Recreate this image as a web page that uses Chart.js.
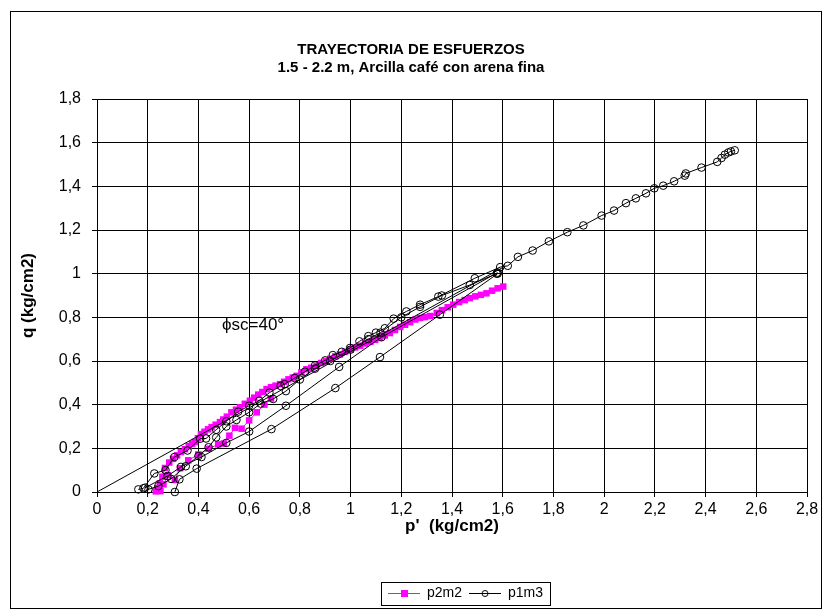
<!DOCTYPE html>
<html>
<head>
<meta charset="utf-8">
<title>Trayectoria de esfuerzos</title>
<script src="https://cdn.jsdelivr.net/npm/chart.js@4.4.1/dist/chart.umd.min.js"></script>
<style>
  html, body { margin: 0; padding: 0; background: #fff; }
  #wrap { position: relative; width: 827px; height: 610px; }
</style>
</head>
<body>
<div id="wrap"><canvas id="grafico"></canvas></div>
<script>
// Trayectorias de esfuerzos (p', q) en kg/cm2

// p2m2: trayectoria principal
const p2m2Principal = [
  [0.232,0.003],[0.240,0.018],[0.248,0.040],[0.258,0.070],[0.268,0.110],[0.285,0.135],
  [0.300,0.152],[0.316,0.168],[0.331,0.183],[0.347,0.196],[0.362,0.210],[0.375,0.220],
  [0.386,0.229],[0.398,0.246],[0.410,0.265],[0.424,0.276],[0.438,0.287],[0.452,0.297],
  [0.468,0.308],[0.485,0.320],[0.498,0.332],[0.512,0.345],[0.530,0.365],[0.548,0.377],
  [0.564,0.388],[0.583,0.404],[0.603,0.418],[0.620,0.432],[0.636,0.446],[0.652,0.458],
  [0.669,0.471],[0.686,0.480],[0.704,0.487],[0.722,0.494],[0.738,0.505],[0.755,0.516],
  [0.772,0.524],[0.787,0.532],[0.806,0.548],[0.826,0.562],[0.845,0.569],[0.866,0.578],
  [0.884,0.591],[0.903,0.600],[0.920,0.610],[0.940,0.621],[0.958,0.630],[0.978,0.642],
  [1.000,0.653],[1.018,0.662],[1.038,0.670],[1.058,0.680],[1.078,0.688],[1.097,0.697],
  [1.116,0.706],[1.135,0.717],[1.155,0.728],[1.175,0.742],[1.196,0.756],[1.215,0.766],
  [1.235,0.778],[1.255,0.790],[1.274,0.797],[1.293,0.801],[1.314,0.806],[1.340,0.820],
  [1.360,0.833],[1.383,0.846],[1.405,0.858],[1.428,0.870],[1.450,0.879],[1.470,0.888],
  [1.492,0.896],[1.514,0.903],[1.536,0.910],[1.558,0.922],[1.580,0.933],[1.602,0.941]
];

// p2m2: trayectoria secundaria
const p2m2Secundaria = [
  [0.250,0.004],[0.262,0.035],[0.280,0.077],[0.307,0.055],[0.327,0.109],[0.360,0.145],
  [0.400,0.172],[0.440,0.198],[0.478,0.218],[0.500,0.222],[0.522,0.258],[0.544,0.294],
  [0.570,0.290],[0.600,0.328],[0.630,0.365],[0.660,0.400],[0.686,0.428]
];

// p1m3: etapas
const p1m3Etapa1 = [
  [0.163,0.012],[0.183,0.017],[0.226,0.085],[0.270,0.100],[0.305,0.160],[0.357,0.190],
  [0.407,0.244],[0.430,0.245],[0.470,0.285],[0.510,0.324],[0.557,0.368],[0.600,0.395],
  [0.640,0.418],[0.680,0.455],[0.724,0.486],[0.740,0.494],[0.780,0.522],[0.820,0.551],
  [0.860,0.580],[0.900,0.603],[0.930,0.627],[0.965,0.642],[0.998,0.660],[1.035,0.690],
  [1.070,0.714],[1.100,0.730],[1.135,0.750],[1.170,0.794],[1.220,0.827],[1.274,0.858],
  [1.346,0.895],[1.490,0.979],[1.590,1.030],[1.620,1.036],[1.660,1.077],[1.718,1.106],
  [1.782,1.148],[1.855,1.190],[1.918,1.221],[1.990,1.266],[2.039,1.289],[2.086,1.323],
  [2.125,1.345],[2.165,1.368],[2.198,1.391],[2.233,1.403],[2.276,1.423],[2.318,1.449],
  [2.322,1.459],[2.384,1.486],[2.446,1.512],[2.463,1.530],[2.476,1.545],[2.490,1.555],
  [2.500,1.560],[2.515,1.565]
];
const p1m3Etapa2 = [
  [0.203,0.012],[0.242,0.027],[0.292,0.060],[0.350,0.118],[0.400,0.165],[0.440,0.205],
  [0.470,0.250],[0.510,0.300],[0.550,0.330],[0.600,0.365],[0.645,0.405],[0.695,0.426],
  [0.745,0.462],[0.800,0.515],[0.860,0.565],[0.920,0.600],[1.000,0.652],[1.070,0.700],
  [1.118,0.730],[1.200,0.800],[1.274,0.848],[1.360,0.900],[1.470,0.948],[1.576,1.000]
];
const p1m3Etapa3 = [
  [0.190,0.020],[0.278,0.073],[0.331,0.115],[0.412,0.160],[0.510,0.225],[0.600,0.277],
  [0.745,0.395],[0.955,0.573],[1.122,0.709],[1.580,1.005]
];
const p1m3Etapa4 = [
  [0.307,0.000],[0.325,0.058],[0.393,0.107],[0.688,0.288],[0.940,0.476],[1.116,0.618],
  [1.352,0.812],[1.580,1.000]
];

// Envolvente de falla, phi = 40 grados
const envolvente = [[0,0],[1.6,1.028]];

// Marcas de los ejes
const ticksP = [0,0.2,0.4,0.6,0.8,1,1.2,1.4,1.6,1.8,2,2.2,2.4,2.6,2.8];
const etiquetasP = ['0','0,2','0,4','0,6','0,8','1','1,2','1,4','1,6','1,8','2','2,2','2,4','2,6','2,8'];
const ticksQ = [0,0.2,0.4,0.6,0.8,1,1.2,1.4,1.6,1.8];
const etiquetasQ = ['0','0,2','0,4','0,6','0,8','1','1,2','1,4','1,6','1,8'];

const FUENTE = "'Liberation Sans', Arial, sans-serif";
Chart.defaults.font.family = FUENTE;
Chart.defaults.color = '#000';

const aPuntos = arr => arr.map(([x, y]) => ({x, y}));

function serieP2m2(datos) {
  return {
    label: 'p2m2', data: aPuntos(datos), showLine: true,
    borderColor: '#ff00ff', borderWidth: 1, backgroundColor: '#ff00ff',
    pointStyle: 'rect', pointRadius: 4.6, pointBorderWidth: 0,
    pointBackgroundColor: '#ff00ff', pointBorderColor: '#ff00ff',
    order: 1, clip: false
  };
}
function serieP1m3(datos) {
  return {
    label: 'p1m3', data: aPuntos(datos), showLine: true,
    borderColor: '#000', borderWidth: 1, backgroundColor: 'rgba(0,0,0,0)',
    pointStyle: 'circle', pointRadius: 3.8, pointBorderWidth: 1,
    pointBackgroundColor: 'rgba(0,0,0,0)', pointBorderColor: '#000',
    order: 0, clip: false
  };
}

// Legend symbols: a short line with the marker in the middle
const ANCHO_SIMBOLO = 32;
function simbolo(color, tipo) {
  const c = document.createElement('canvas');
  c.width = ANCHO_SIMBOLO; c.height = 12;
  const g = c.getContext('2d');
  const m = ANCHO_SIMBOLO / 2;
  g.strokeStyle = color; g.lineWidth = 1;
  g.beginPath(); g.moveTo(0, 6.5); g.lineTo(ANCHO_SIMBOLO, 6.5); g.stroke();
  if (tipo === 'rect') {
    g.fillStyle = color; g.fillRect(m - 3, 3, 7, 7);
  } else {
    g.beginPath(); g.arc(m, 6.5, 3, 0, Math.PI * 2); g.stroke();
  }
  return c;
}
const simboloP2m2 = simbolo('#ff00ff', 'rect');
const simboloP1m3 = simbolo('#000', 'circle');

const LEYENDA_X = 388;      // left end of the first legend symbol
const LEYENDA_PAD = 7;
const LEYENDA_FUENTE = 14;

// Fondo, marco exterior y recuadro de la leyenda
const marcos = {
  id: 'marcos',
  afterLayout(chart) {
    const lg = chart.legend;
    if (!lg) return;
    const w = lg.right - lg.left;
    lg.left = LEYENDA_X - LEYENDA_PAD;
    lg.right = lg.left + w;
  },
  beforeDraw(chart) {
    const ctx = chart.ctx;
    ctx.save();
    ctx.fillStyle = '#fff';
    ctx.fillRect(0, 0, chart.width, chart.height);
    ctx.restore();
  },
  afterDraw(chart) {
    const ctx = chart.ctx;
    const lg = chart.legend;
    ctx.save();
    ctx.strokeStyle = '#000';
    ctx.lineWidth = 1;
    ctx.strokeRect(10.5, 11.5, 811, 597);
    if (lg && lg.lineWidths) {
      const izq = LEYENDA_X - LEYENDA_PAD;
      const der = LEYENDA_X + lg.lineWidths[0];
      const cy = lg.top + LEYENDA_PAD + LEYENDA_FUENTE / 2;
      ctx.strokeRect(Math.round(izq) + 0.5, Math.round(cy - 11) + 0.5, Math.round(der - izq), 23);
    }
    ctx.restore();
  }
};

// Rótulo del ángulo de fricción
const rotuloPhi = {
  id: 'rotuloPhi',
  afterDatasetsDraw(chart) {
    const {ctx, scales: {x, y}} = chart;
    ctx.save();
    ctx.font = '17px ' + FUENTE;
    ctx.fillStyle = '#000';
    ctx.textAlign = 'left';
    ctx.textBaseline = 'middle';
    ctx.fillText('\u03D5sc=40\u00B0', x.getPixelForValue(0.493), y.getPixelForValue(0.764));
    ctx.restore();
  }
};

const datasets = [
  serieP2m2(p2m2Principal),
  serieP2m2(p2m2Secundaria),
  serieP1m3(p1m3Etapa1),
  serieP1m3(p1m3Etapa2),
  serieP1m3(p1m3Etapa3),
  serieP1m3(p1m3Etapa4),
  {
    label: 'envolvente', data: aPuntos(envolvente), showLine: true,
    borderColor: '#000', borderWidth: 1, pointRadius: 0, order: 0, clip: false
  }
];

new Chart(document.getElementById('grafico'), {
  type: 'scatter',
  data: { datasets },
  plugins: [marcos, rotuloPhi],
  options: {
    responsive: true,
    maintainAspectRatio: false,
    animation: false,
    devicePixelRatio: 1,
    layout: { padding: { left: 15, right: 20, top: 12, bottom: 0 } },
    plugins: {
      title: {
        display: true,
        text: ['TRAYECTORIA DE ESFUERZOS', '1.5 - 2.2 m, Arcilla café con arena fina'],
        font: { size: 15, weight: 'bold', lineHeight: 1.2 },
        color: '#000',
        padding: { top: 29, bottom: 22 }
      },
      legend: {
        position: 'bottom',
        align: 'start',
        labels: {
          font: { size: LEYENDA_FUENTE },
          color: '#000',
          usePointStyle: true,
          pointStyleWidth: ANCHO_SIMBOLO,
          padding: LEYENDA_PAD,
          generateLabels: () => [
            { text: 'p2m2', pointStyle: simboloP2m2, datasetIndex: 0, lineWidth: 0,
              fillStyle: '#ff00ff', strokeStyle: '#ff00ff', fontColor: '#000', hidden: false },
            { text: 'p1m3', pointStyle: simboloP1m3, datasetIndex: 2, lineWidth: 0,
              fillStyle: '#000', strokeStyle: '#000', fontColor: '#000', hidden: false }
          ]
        }
      },
      tooltip: { enabled: false }
    },
    scales: {
      x: {
        type: 'linear', min: 0, max: 2.8,
        afterFit: s => { s.height = 87; },
        afterBuildTicks: s => { s.ticks = ticksP.map(v => ({value: v})); },
        ticks: {
          font: { size: 16 }, color: '#000', padding: 3, maxRotation: 0, autoSkip: false,
          callback: v => etiquetasP[ticksP.findIndex(t => Math.abs(t - v) < 1e-6)]
        },
        grid: { color: '#000', lineWidth: 1, tickLength: 5, drawTicks: true },
        border: { color: '#000', width: 1 },
        title: {
          display: true, text: "p'  (kg/cm2)",
          font: { size: 17, weight: 'bold', lineHeight: 1.2 }, color: '#000',
          padding: { top: 0, bottom: 42 }
        }
      },
      y: {
        type: 'linear', min: 0, max: 1.8,
        afterFit: s => { s.width = 82; },
        afterBuildTicks: s => { s.ticks = ticksQ.map(v => ({value: v})); },
        ticks: {
          font: { size: 16 }, color: '#000', padding: 11, autoSkip: false,
          callback: v => etiquetasQ[ticksQ.findIndex(t => Math.abs(t - v) < 1e-6)]
        },
        grid: { color: '#000', lineWidth: 1, tickLength: 5, drawTicks: true },
        border: { color: '#000', width: 1 },
        title: {
          display: true, text: 'q (kg/cm2)',
          font: { size: 17, weight: 'bold', lineHeight: 1.2 }, color: '#000',
          padding: { top: 3, bottom: 0 }
        }
      }
    }
  }
});
</script>
</body>
</html>
